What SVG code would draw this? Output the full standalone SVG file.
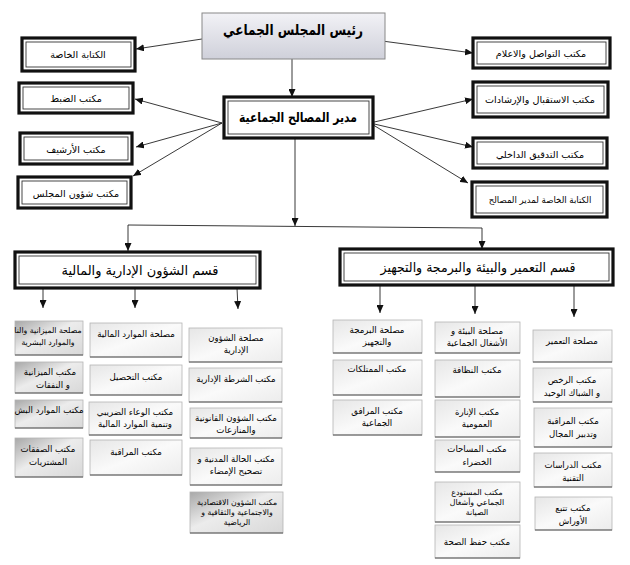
<svg xmlns="http://www.w3.org/2000/svg" width="630" height="565" viewBox="0 0 630 565">
<style>
text{font-family:"DejaVu Sans",sans-serif;fill:#000;text-anchor:middle}
.t1{font-size:15px;font-weight:bold}
.t2{font-size:13.5px;font-weight:bold}
.t3{font-size:13.5px}
.m{font-size:9.6px}
.s{font-size:8.6px}
.l{font-size:7.8px}
.o{fill:#fff;stroke:#111;stroke-width:3.2}
.i{fill:#fff;stroke:#333;stroke-width:0.9}
.b{fill:url(#g1);stroke:#b5b5b5;stroke-width:0.8}
.bd{fill:url(#g2);stroke:#b5b5b5;stroke-width:0.8}
.bl{stroke:#555;stroke-width:1.2}
.c{stroke:#222;stroke-width:0.9;fill:none}
.a{marker-end:url(#ah)}
</style>
<defs>
<marker id="ah" markerUnits="userSpaceOnUse" markerWidth="8" markerHeight="7" refX="8" refY="3.5" orient="auto"><path d="M0,0 L8,3.5 L0,7 z" fill="#111"/></marker>
<linearGradient id="g0" x1="0" y1="0" x2="0" y2="1"><stop offset="0" stop-color="#f2f2f6"/><stop offset="1" stop-color="#cfd0da"/></linearGradient>
<linearGradient id="g1" x1="0" y1="0" x2="1" y2="1"><stop offset="0" stop-color="#e6e6e6"/><stop offset="0.5" stop-color="#fafafa"/><stop offset="1" stop-color="#ececec"/></linearGradient>
<linearGradient id="g2" x1="0" y1="0" x2="1" y2="1"><stop offset="0" stop-color="#a8a8a8"/><stop offset="0.45" stop-color="#ececec"/><stop offset="1" stop-color="#d8d8d8"/></linearGradient>
</defs>
<rect width="630" height="565" fill="#fff"/>

<g id="connectors">
<line class="c a" x1="292" y1="59" x2="292" y2="97"/>
<line class="c a" x1="202" y1="39" x2="136" y2="49"/>
<line class="c a" x1="222" y1="123" x2="135" y2="99"/>
<line class="c a" x1="222" y1="123" x2="136" y2="147"/>
<line class="c a" x1="222" y1="123" x2="133" y2="176"/>
<line class="c a" x1="382" y1="41" x2="473" y2="53"/>
<line class="c a" x1="370" y1="123" x2="473" y2="99"/>
<line class="c a" x1="370" y1="123" x2="473" y2="147"/>
<line class="c a" x1="370" y1="123" x2="468" y2="183"/>
<line class="c a" x1="295" y1="138" x2="295" y2="226"/>
<line class="c" x1="128" y1="225" x2="482" y2="228"/>
<line class="c a" x1="128" y1="225" x2="128" y2="251"/>
<line class="c a" x1="482" y1="228" x2="482" y2="249"/>
<line class="c a" x1="43" y1="288" x2="43" y2="308"/>
<line class="c a" x1="135" y1="288" x2="135" y2="308"/>
<line class="c a" x1="237" y1="288" x2="238" y2="309"/>
<line class="c a" x1="380" y1="286" x2="380" y2="313"/>
<line class="c a" x1="475" y1="286" x2="475" y2="314"/>
<line class="c a" x1="574" y1="286" x2="574" y2="317"/>
</g>

<g id="n-president">
<rect x="202" y="13" width="183" height="46" fill="url(#g0)" stroke="#888" stroke-width="1"/>
<text class="t1" x="293" y="35" textLength="140" lengthAdjust="spacingAndGlyphs">رئيس المجلس الجماعي</text>
</g>
<g id="n-dgs">
<rect class="o" x="224" y="97" width="149" height="41"/>
<rect class="i" x="228" y="101" width="141" height="33"/>
<text class="t2" x="298" y="122" textLength="118" lengthAdjust="spacingAndGlyphs">مدير المصالح الجماعية</text>
</g>

<g id="n-kitaba">
<rect class="o" x="22" y="38" width="113" height="33"/><rect class="i" x="26" y="42" width="105" height="25"/>
<text class="m" x="78" y="58">الكتابة الخاصة</text>
</g>
<g id="n-dabt">
<rect class="o" x="19" y="83" width="114" height="30"/><rect class="i" x="23" y="87" width="106" height="22"/>
<text class="m" x="76" y="102">مكتب الضبط</text>
</g>
<g id="n-archive">
<rect class="o" x="20" y="133" width="112" height="31"/><rect class="i" x="24" y="137" width="104" height="23"/>
<text class="m" x="76" y="153">مكتب الأرشيف</text>
</g>
<g id="n-majlis">
<rect class="o" x="18" y="177" width="113" height="31"/><rect class="i" x="22" y="181" width="105" height="23"/>
<text class="m" x="76" y="197">مكتب شؤون المجلس</text>
</g>

<g id="n-tawasol">
<rect class="o" x="473" y="38" width="137" height="30"/><rect class="i" x="477" y="42" width="129" height="22"/>
<text class="m" x="541" y="57">مكتب التواصل والاعلام</text>
</g>
<g id="n-istiqbal">
<rect class="o" x="473" y="82" width="135" height="35"/><rect class="i" x="477" y="86" width="127" height="27"/>
<text class="m" x="540" y="103">مكتب الاستقبال والإرشادات</text>
</g>
<g id="n-tadqiq">
<rect class="o" x="473" y="138" width="134" height="30"/><rect class="i" x="477" y="142" width="126" height="22"/>
<text class="m" x="540" y="158">مكتب التدقيق الداخلي</text>
</g>
<g id="n-kitaba2">
<rect class="o" x="472" y="182" width="135" height="35"/><rect class="i" x="476" y="186" width="127" height="27"/>
<text class="s" x="540" y="203">الكتابة الخاصة لمدير المصالح</text>
</g>

<g id="n-sec-admin">
<rect class="o" x="15" y="252" width="245" height="36"/><rect class="i" x="19" y="256" width="237" height="28"/>
<text class="t3" x="140" y="275" textLength="157" lengthAdjust="spacingAndGlyphs">قسم الشؤون الإدارية والمالية</text>
</g>
<g id="n-sec-tech">
<rect class="o" x="340" y="249" width="273" height="36"/><rect class="i" x="344" y="253" width="265" height="28"/>
<text class="t3" x="478" y="272" textLength="195" lengthAdjust="spacingAndGlyphs">قسم التعمير والبيئة والبرمجة والتجهيز</text>
</g>

<!-- column A -->
<g id="n-a1"><rect class="bd" x="15" y="321" width="68" height="34"/><line class="bl" x1="15" y1="355" x2="83" y2="355"/>
<text class="l" x="48" y="333">مصلحة الميزانية والنا</text><text class="l" x="48" y="345">والموارد البشرية</text></g>
<g id="n-a2"><rect class="bd" x="15" y="362" width="68" height="31"/><line class="bl" x1="15" y1="393" x2="83" y2="393"/>
<text class="s" x="50" y="375">مكتب الميزانية</text><text class="s" x="53" y="388">و النفقات</text></g>
<g id="n-a3"><rect class="bd" x="15" y="400" width="68" height="28"/><line class="bl" x1="15" y1="428" x2="83" y2="428"/>
<text class="s" x="49" y="413">مكتب الموارد البش</text></g>
<g id="n-a4"><rect class="bd" x="15" y="438" width="68" height="39"/><line class="bl" x1="15" y1="477" x2="83" y2="477"/>
<text class="s" x="48" y="452">مكتب الصفقات</text><text class="s" x="48" y="465">المشتريات</text></g>

<!-- column B -->
<g id="n-b1"><rect class="b" x="90" y="323" width="92" height="34"/><line class="bl" x1="90" y1="357" x2="182" y2="357"/>
<text class="s" x="136" y="337">مصلحة الموارد المالية</text></g>
<g id="n-b2"><rect class="b" x="90" y="365" width="92" height="30"/><line class="bl" x1="90" y1="395" x2="182" y2="395"/>
<text class="s" x="136" y="380">مكتب التحصيل</text></g>
<g id="n-b3"><rect class="b" x="89" y="402" width="93" height="33"/><line class="bl" x1="89" y1="435" x2="182" y2="435"/>
<text class="s" x="135" y="415">مكتب الوعاء الضريبي</text><text class="s" x="135" y="427">وتنمية الموارد المالية</text></g>
<g id="n-b4"><rect class="b" x="90" y="440" width="92" height="35"/><line class="bl" x1="90" y1="475" x2="182" y2="475"/>
<text class="s" x="136" y="455">مكتب المراقبة</text></g>

<!-- column C -->
<g id="n-c1"><rect class="b" x="189" y="328" width="93" height="34"/><line class="bl" x1="189" y1="362" x2="282" y2="362"/>
<text class="s" x="236" y="341">مصلحة الشؤون</text><text class="s" x="236" y="353">الإدارية</text></g>
<g id="n-c2"><rect class="b" x="189" y="368" width="93" height="34"/><line class="bl" x1="189" y1="402" x2="282" y2="402"/>
<text class="s" x="236" y="382">مكتب الشرطة الإدارية</text></g>
<g id="n-c3"><rect class="b" x="190" y="408" width="92" height="30"/><line class="bl" x1="190" y1="438" x2="282" y2="438"/>
<text class="s" x="236" y="421">مكتب الشؤون القانونية</text><text class="s" x="236" y="433">والمنازعات</text></g>
<g id="n-c4"><rect class="b" x="190" y="448" width="92" height="37"/><line class="bl" x1="190" y1="485" x2="282" y2="485"/>
<text class="s" x="236" y="462">مكتب الحالة  المدنية و</text><text class="s" x="236" y="474">تصحيح الإمضاء</text></g>
<g id="n-c5"><rect class="bd" x="190" y="492" width="93" height="41"/><line class="bl" x1="190" y1="533" x2="283" y2="533"/>
<text class="l" x="237" y="505">مكتب الشؤون الاقتصادية</text><text class="l" x="237" y="515">والاجتماعية والثقافية و</text><text class="l" x="237" y="525">الرياضية</text></g>

<!-- column D -->
<g id="n-d1"><rect class="b" x="333" y="320" width="89" height="33"/><line class="bl" x1="333" y1="353" x2="422" y2="353"/>
<text class="s" x="377" y="333">مصلحة البرمجة</text><text class="s" x="377" y="345">والتجهيز</text></g>
<g id="n-d2"><rect class="b" x="333" y="360" width="89" height="35"/><line class="bl" x1="333" y1="395" x2="422" y2="395"/>
<text class="s" x="377" y="372">مكتب الممتلكات</text></g>
<g id="n-d3"><rect class="b" x="333" y="400" width="89" height="35"/><line class="bl" x1="333" y1="435" x2="422" y2="435"/>
<text class="s" x="377" y="414">مكتب المرافق</text><text class="s" x="377" y="426">الجماعية</text></g>

<!-- column E -->
<g id="n-e1"><rect class="b" x="435" y="322" width="85" height="31"/><line class="bl" x1="435" y1="353" x2="520" y2="353"/>
<text class="s" x="477" y="334">مصلحة البيئة و</text><text class="s" x="477" y="346">الأشغال الجماعية</text></g>
<g id="n-e2"><rect class="b" x="435" y="360" width="85" height="37"/><line class="bl" x1="435" y1="397" x2="520" y2="397"/>
<text class="s" x="477" y="373">مكتب النظافة</text></g>
<g id="n-e3"><rect class="b" x="435" y="400" width="85" height="37"/><line class="bl" x1="435" y1="437" x2="520" y2="437"/>
<text class="s" x="477" y="415">مكتب الإنارة</text><text class="s" x="477" y="427">العمومية</text></g>
<g id="n-e4"><rect class="b" x="435" y="440" width="85" height="32"/><line class="bl" x1="435" y1="472" x2="520" y2="472"/>
<text class="s" x="477" y="452">مكتب المساحات</text><text class="s" x="477" y="465">الخضراء</text></g>
<g id="n-e5"><rect class="b" x="435" y="482" width="85" height="40"/><line class="bl" x1="435" y1="522" x2="520" y2="522"/>
<text class="l" x="477" y="495">مكتب المستودع</text><text class="l" x="477" y="505">الجماعي وأشغال</text><text class="l" x="477" y="515">الصيانة</text></g>
<g id="n-e6"><rect class="b" x="435" y="525" width="85" height="33"/><line class="bl" x1="435" y1="558" x2="520" y2="558"/>
<text class="s" x="477" y="545">مكتب حفظ الصحة</text></g>

<!-- column F -->
<g id="n-f1"><rect class="b" x="533" y="330" width="79" height="32"/><line class="bl" x1="533" y1="362" x2="612" y2="362"/>
<text class="s" x="572" y="344">مصلحة التعمير</text></g>
<g id="n-f2"><rect class="b" x="533" y="368" width="79" height="34"/><line class="bl" x1="533" y1="402" x2="612" y2="402"/>
<text class="s" x="572" y="383">مكتب الرخص</text><text class="s" x="572" y="396">و الشباك الوحيد</text></g>
<g id="n-f3"><rect class="b" x="534" y="408" width="78" height="39"/><line class="bl" x1="534" y1="447" x2="612" y2="447"/>
<text class="s" x="573" y="424">مكتب المراقبة</text><text class="s" x="573" y="437">وتدبير المجال</text></g>
<g id="n-f4"><rect class="b" x="534" y="453" width="78" height="34"/><line class="bl" x1="534" y1="487" x2="612" y2="487"/>
<text class="s" x="573" y="468">مكتب الدراسات</text><text class="s" x="573" y="481">التقنية</text></g>
<g id="n-f5"><rect class="b" x="535" y="497" width="77" height="33"/><line class="bl" x1="535" y1="530" x2="612" y2="530"/>
<text class="s" x="573" y="511">مكتب تتبع</text><text class="s" x="573" y="524">الأوراش</text></g>
</svg>
